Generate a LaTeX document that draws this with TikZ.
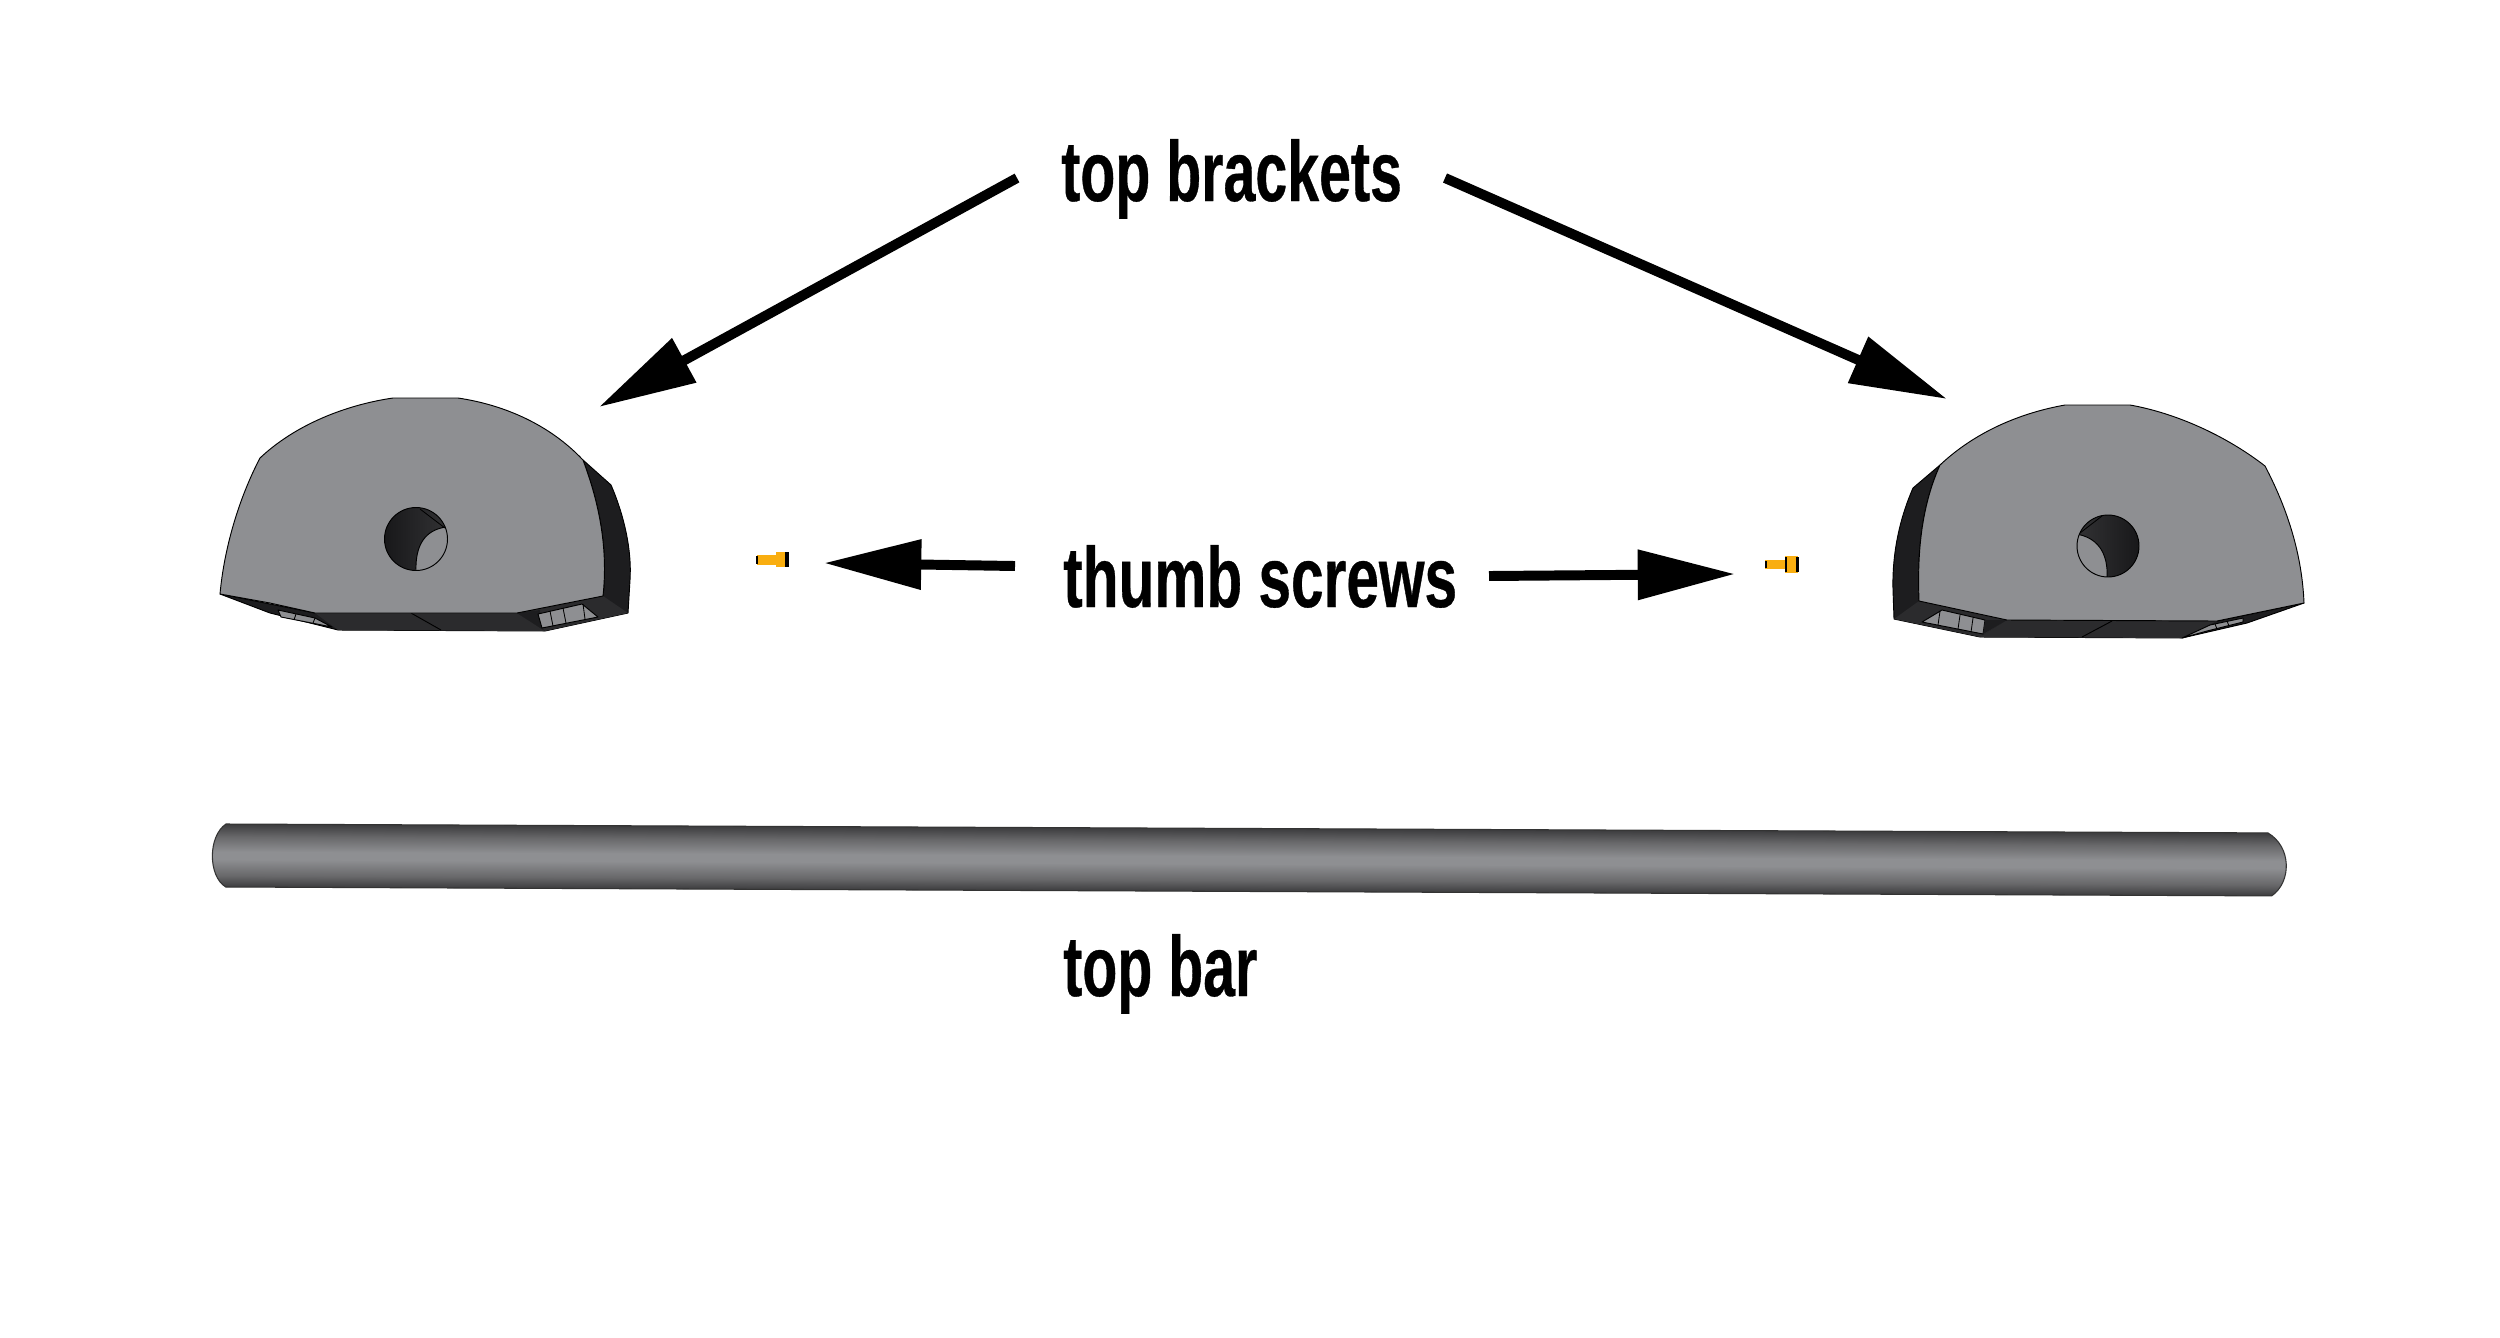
\documentclass[tikz,border=0pt]{standalone}
\usepackage{fontspec}
\usetikzlibrary{arrows.meta}
\newfontfamily\labelfont[FakeStretch=0.67,FakeBold=0.4]{Liberation Sans Bold}
\newfontfamily\labelfontw[FakeStretch=0.685,FakeBold=0.4]{Liberation Sans Bold}
\definecolor{face}{HTML}{8E8F92}
\definecolor{dk}{HTML}{1D1D1F}
\definecolor{dkb}{HTML}{2B2B2D}
\definecolor{holel}{HTML}{18181A}
\definecolor{holer}{HTML}{323234}
\definecolor{screw}{HTML}{F9AE10}
\definecolor{bara}{HTML}{3C3C3E}
\definecolor{barb}{HTML}{68686A}
\pgfdeclareverticalshading{barshade}{100bp}{color(0bp)=(bara);color(25bp)=(bara);color(34bp)=(barb);color(47bp)=(face);color(53bp)=(face);color(65bp)=(barb);color(75bp)=(bara);color(100bp)=(bara)}
\tikzset{
 lbl/.style={anchor=base west,inner sep=0pt,font=\labelfont\fontsize{73pt}{80pt}\selectfont},
 lblw/.style={anchor=base west,inner sep=0pt,font=\labelfontw\fontsize{73pt}{80pt}\selectfont},
 arr/.style={line width=8.5pt,-{Triangle[length=83pt,width=41pt]}},
 edge/.style={draw=black,line width=0.8pt,line join=round},
 thin edge/.style={draw=black,line width=0.7pt},
}
\begin{document}
\begin{tikzpicture}[x=0.03cm,y=-0.03cm]
\useasboundingbox (0,0) rectangle (2500,1337);
\fill[white] (0,0) rectangle (2500,1337);
% labels
\node[lbl] (brk) at (1061,201) {top brackets};
\node[lblw] (thm) at (1063,607) {thumb screws};
\node[lbl] (bar) at (1063,996) {top bar};
% arrows
\coordinate (a1s) at (1017,178); \coordinate (a1e) at (599,407);
\coordinate (a2s) at (1445,178); \coordinate (a2e) at (1947,399);
\coordinate (a3s) at (1015,566); \coordinate (a3e) at (824,563);
\coordinate (a4s) at (1489,576); \coordinate (a4e) at (1735,574);
\draw[arr] (a1s) -- (a1e);
\draw[arr] (a2s) -- (a2e);
\draw[arr] (a3s) -- (a3e);
\draw[arr] (a4s) -- (a4e);
% left bracket
\fill[dk,edge] (583,460) -- (611,485) .. controls (624,515) and (632,550) .. (630,580) -- (628,613) -- (545,631) -- (338,630) -- (270,613) -- (220,594) -- (315,613) -- (517,613) -- (603,596) .. controls (608,550) and (600,505) .. (583,460) -- cycle;
\fill[dkb] (315,613) -- (517,613) -- (545,631) -- (338,630) -- cycle;
\fill[dkb] (517,613) -- (603,596) -- (628,613) -- (545,631) -- cycle;
\fill[dk] (517,613) -- (540,610) -- (542,628) -- (545,631) -- cycle;
\fill[face,edge] (538,614) -- (582,604) -- (598,617) -- (542,628) -- cycle;
\draw[thin edge] (550,611) -- (553,626) (563,608) -- (566,623) (583,604) -- (585,619);
\draw[edge] (411,613) -- (441,630);
\fill[face,edge] (278,610) -- (315,618) -- (332,627) -- (281,617) -- cycle;
\draw[thin edge] (296,614) -- (294,620) (315,618) -- (313,623);
\fill[face,edge] (220,594) .. controls (224,550) and (238,500) .. (260,458) .. controls (295,425) and (345,405) .. (393,398) -- (458,398) .. controls (505,405) and (550,425) .. (583,460) .. controls (600,505) and (608,550) .. (603,596) -- (517,613) -- (315,613) -- (270,603) -- cycle;
\path[left color=holel,right color=holer] (416,539) circle (31.5);
\begin{scope}
\clip (416,539) circle (31.5);
\fill[face,edge] (416,572) .. controls (415,545) and (425,530) .. (446,527) -- (470,560) -- (420,590) -- cycle;
\end{scope}
\draw[edge] (416,539) circle (31.5);
\draw[thin edge] (420,509) -- (445,528);
% right bracket
\fill[dk,edge] (1940,465) -- (1913,488) .. controls (1899,520) and (1892,555) .. (1893,590) -- (1894,619) -- (1980,637) -- (2182,638) -- (2247,623) -- (2304,603) -- (2217,621) -- (2007,620) -- (1919,601) .. controls (1917,550) and (1922,505) .. (1940,465) -- cycle;
\fill[dkb] (2007,620) -- (2217,621) -- (2182,638) -- (1980,637) -- cycle;
\fill[dkb] (1919,601) -- (2007,620) -- (1980,637) -- (1894,619) -- cycle;
\fill[face,edge] (1942,610) -- (1922,622) -- (1983,634) -- (1985,620) -- cycle;
\draw[thin edge] (1940,611) -- (1938,625) (1960,615) -- (1958,629) (1973,618) -- (1971,632);
\fill[dk] (1985,620) -- (2007,620) -- (1983,634) -- cycle;
\draw[edge] (2112,621) -- (2082,637);
\fill[face,edge] (2182,638) -- (2210,625) -- (2243,618) -- (2243,622) -- (2207,631) -- cycle;
\draw[thin edge] (2215,624) -- (2217,629) (2227,621) -- (2229,626);
\fill[face,edge] (1919,601) .. controls (1917,550) and (1922,505) .. (1940,465) .. controls (1975,432) and (2020,413) .. (2065,405) -- (2130,405) .. controls (2175,413) and (2225,435) .. (2265,466) .. controls (2288,510) and (2302,555) .. (2304,603) -- (2217,621) -- (2007,620) -- cycle;
\path[left color=holer,right color=holel] (2108,546) circle (31);
\begin{scope}
\clip (2108,546) circle (31);
\fill[face,edge] (2076,534) .. controls (2095,537) and (2109,550) .. (2107,580) -- (2085,590) -- (2055,550) -- cycle;
\end{scope}
\draw[edge] (2108,546) circle (31);
\draw[thin edge] (2080,533) -- (2102,516);
% screws
\fill[screw] (757,555) rectangle (776,565);
\fill[screw] (776,552) rectangle (788,567);
\fill[black] (785,552) rectangle (789,567);
\fill[black] (756,556) rectangle (758,564);
\fill[screw] (1765,560) rectangle (1785,569);
\fill[screw] (1785,556) rectangle (1798,573);
\fill[black] (1785,557) rectangle (1787,572);
\fill[black] (1796,557) rectangle (1799,572);
\fill[black] (1765,561) rectangle (1767,568);
% bar
\begin{scope}[transform canvas={rotate around={-0.25:(226,824)}}]
\path[shading=barshade,draw=black!80,line width=0.9pt] (226,824) -- (2268,824) .. controls (2292,838) and (2292,873) .. (2272,887) -- (226,887) .. controls (208,876) and (208,836) .. (226,824) -- cycle;
\end{scope}
\end{tikzpicture}
\end{document}
